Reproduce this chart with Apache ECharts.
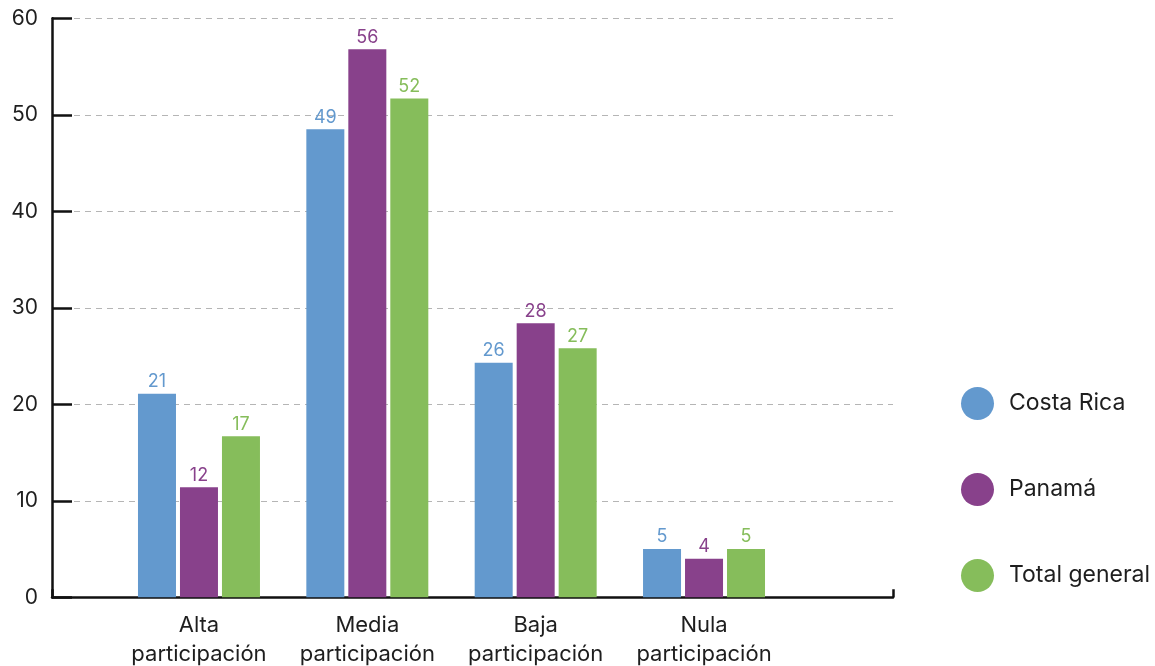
<!DOCTYPE html>
<html>
<head>
<meta charset="utf-8">
<script src="https://cdn.jsdelivr.net/npm/echarts@6/dist/echarts.min.js"></script>
<style>html,body{margin:0;padding:0;background:#fff}#c{width:1155px;height:666px}</style>
</head>
<body>
<div id="c"></div>
<script>
const categories = ['Alta\nparticipación', 'Media\nparticipación', 'Baja\nparticipación', 'Nula\nparticipación'];
const seriesNames = ['Costa Rica', 'Panamá', 'Total general'];
const costaRica = [21.1, 48.5, 24.3, 5.0];
const panama = [11.4, 56.8, 28.4, 4.0];
const totalGeneral = [16.7, 51.7, 25.8, 5.0];
const costaRicaLabels = ['21', '49', '26', '5'];
const panamaLabels = ['12', '56', '28', '4'];
const totalGeneralLabels = ['17', '52', '27', '5'];
const yTicks = [0, 10, 20, 30, 40, 50, 60];
const colors = ['#6399CE', '#88418B', '#86BD5B'];

const FONT = 'Inter, "Noto Sans", sans-serif';
const chart = echarts.init(document.getElementById('c'), null, {renderer: 'canvas'});

function mkSeries(name, values, labels, color) {
  return {
    name: name, type: 'bar', xAxisIndex: 1, yAxisIndex: 1,
    data: values, barWidth: 38, barGap: '10.5%',
    itemStyle: {color: color},
    label: {
      show: true, position: 'top', distance: 3,
      color: color, fontSize: 18, fontFamily: FONT,
      formatter: p => labels[p.dataIndex]
    }
  };
}

const GT = 18.3, GB = 68.7;
chart.setOption({
  animation: false,
  backgroundColor: '#fff',
  color: colors,
  textStyle: {fontFamily: FONT},
  grid: [
    {left: 52, right: 262, top: GT, bottom: GB, containLabel: false, outerBoundsMode: 'none'},
    {left: 114.8, right: 366.8, top: GT, bottom: GB, containLabel: false, outerBoundsMode: 'none'}
  ],
  legend: {
    orient: 'vertical', left: 956, top: 382,
    icon: 'circle', itemWidth: 33, itemHeight: 33, itemGap: 53,
    textStyle: {fontSize: 23, color: '#1e1e1e', fontFamily: FONT, padding: [0, 0, 0, 10]},
    data: seriesNames
  },
  xAxis: [
    {
      type: 'value', gridIndex: 0, min: 0, max: 1, interval: 1,
      axisLine: {show: true, lineStyle: {color: '#111', width: 2.5}},
      axisTick: {show: true, inside: true, length: 8, lineStyle: {color: '#111', width: 2.5}},
      axisLabel: {show: false}, splitLine: {show: false}
    },
    {
      type: 'category', gridIndex: 1, data: categories,
      axisLine: {show: false}, axisTick: {show: false},
      axisLabel: {fontSize: 22, color: '#1e1e1e', fontFamily: FONT, lineHeight: 29, margin: 14, interval: 0}
    }
  ],
  yAxis: [
    {
      type: 'value', gridIndex: 0, min: 0, max: 60, interval: 10,
      axisLine: {show: true, lineStyle: {color: '#111', width: 2.5}},
      axisTick: {show: true, inside: true, length: 20, lineStyle: {color: '#111', width: 2.5}},
      axisLabel: {fontSize: 21, color: '#1e1e1e', fontFamily: FONT, margin: 14,
        formatter: v => yTicks.includes(v) ? String(v) : ''},
      splitLine: {show: true, lineStyle: {color: '#b5b5b5', type: [6, 5], width: 1}}
    },
    {
      type: 'value', gridIndex: 1, min: 0, max: 60, interval: 10, show: false,
      splitLine: {show: false}
    }
  ],
  series: [
    mkSeries(seriesNames[0], costaRica, costaRicaLabels, colors[0]),
    mkSeries(seriesNames[1], panama, panamaLabels, colors[1]),
    mkSeries(seriesNames[2], totalGeneral, totalGeneralLabels, colors[2])
  ]
});
</script>
</body>
</html>
